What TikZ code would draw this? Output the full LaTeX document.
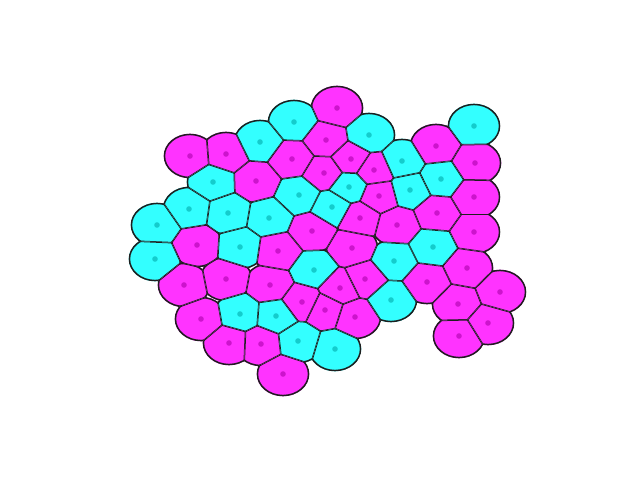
\documentclass[tikz,border=0pt]{standalone}
\definecolor{mF}{RGB}{255,51,255}
\definecolor{cF}{RGB}{51,255,255}
\definecolor{mD}{RGB}{204,20,204}
\definecolor{cD}{RGB}{20,204,204}
\definecolor{edgecol}{RGB}{30,30,30}
\def\sy{0.848}
\def\R{26.3}
\def\pts{337/108/m, 294/122/c, 369/135/c, 474/126/c,
190/156/m, 226/154/m, 260/142/c, 292/159/m, 326/140/m, 351/159/m, 374/170/m, 402/161/c, 436/146/m, 475/163/m,
213/182/c, 256/181/m, 324/173/m, 349/187/c, 379/196/m, 410/190/c, 441/179/c, 474/197/m,
189/209/c, 228/213/c, 269/218/c, 299/195/c, 332/207/c, 360/218/m, 397/225/m, 437/213/m, 474/232/m,
157/225/c, 155/259/c, 197/245/m, 240/247/c, 278/251/m, 312/231/m, 352/248/m, 394/261/c, 433/247/c, 467/268/m,
184/285/m, 226/279/m, 270/285/m, 314/270/c, 340/288/m, 365/279/m, 427/282/m, 500/292/m,
201/319/m, 240/314/c, 276/316/c, 302/302/m, 325/310/m, 355/317/m, 391/300/c, 458/304/m, 488/323/m,
229/343/m, 261/344/m, 298/341/c, 335/349/c, 459/336/m,
283/374/m}
\tikzset{
  outer/.style={draw=edgecol, line width=3pt},
  bisect/.style={draw=edgecol, line width=1.5pt}
}
\begin{document}
\begin{tikzpicture}[x=1pt,y=-\sy pt]
\useasboundingbox (0,0) rectangle (640,{480/\sy});
\pgfmathsetmacro\Ry{\R*\sy}
\foreach \xi/\yi/\ci in \pts {
  \pgfmathsetmacro\Yi{\yi/\sy}
  \begin{scope}
    \clip (\xi,\Yi) ellipse [x radius=\R pt, y radius=\Ry pt];
    \foreach \xj/\yj/\cj in \pts {
      \pgfmathsetmacro\Yj{\yj/\sy}
      \pgfmathsetmacro\dx{\xi-\xj}
      \pgfmathsetmacro\dy{\Yi-\Yj}
      \pgfmathsetmacro\dd{veclen(\dx,\dy)}
      \ifdim\dd pt>0.5pt\relax\ifdim\dd pt<53pt\relax
        \pgfmathsetmacro\ux{\dx/\dd}
        \pgfmathsetmacro\uy{\dy/\dd}
        \pgfmathsetmacro\mx{(\xi+\xj)/2}
        \pgfmathsetmacro\my{(\Yi+\Yj)/2}
        \clip ({\mx-60*\uy},{\my+60*\ux}) -- ({\mx-60*\uy+60*\ux},{\my+60*\ux+60*\uy})
          -- ({\mx+60*\uy+60*\ux},{\my-60*\ux+60*\uy}) -- ({\mx+60*\uy},{\my-60*\ux}) -- cycle;
      \fi\fi
    }
    \fill[fill=\ci F] (\xi,\Yi) ellipse [x radius=\R pt, y radius=\Ry pt];
    \draw[outer] (\xi,\Yi) ellipse [x radius=\R pt, y radius=\Ry pt];
    \foreach \xj/\yj/\cj in \pts {
      \pgfmathsetmacro\Yj{\yj/\sy}
      \pgfmathsetmacro\dx{\xi-\xj}
      \pgfmathsetmacro\dy{\Yi-\Yj}
      \pgfmathsetmacro\dd{veclen(\dx,\dy)}
      \ifdim\dd pt>0.5pt\relax\ifdim\dd pt<53pt\relax
        \pgfmathsetmacro\ux{\dx/\dd}
        \pgfmathsetmacro\uy{\dy/\dd}
        \pgfmathsetmacro\mx{(\xi+\xj)/2}
        \pgfmathsetmacro\my{(\Yi+\Yj)/2}
        \draw[bisect] ({\mx-60*\uy},{\my+60*\ux}) -- ({\mx+60*\uy},{\my-60*\ux});
      \fi\fi
    }
  \end{scope}
}
\foreach \xi/\yi/\ci in \pts {
  \pgfmathsetmacro\Yi{\yi/\sy}
  \fill[fill=\ci D] (\xi,\Yi) ellipse [x radius=2.8pt, y radius=2.8pt];
}
\end{tikzpicture}
\end{document}
